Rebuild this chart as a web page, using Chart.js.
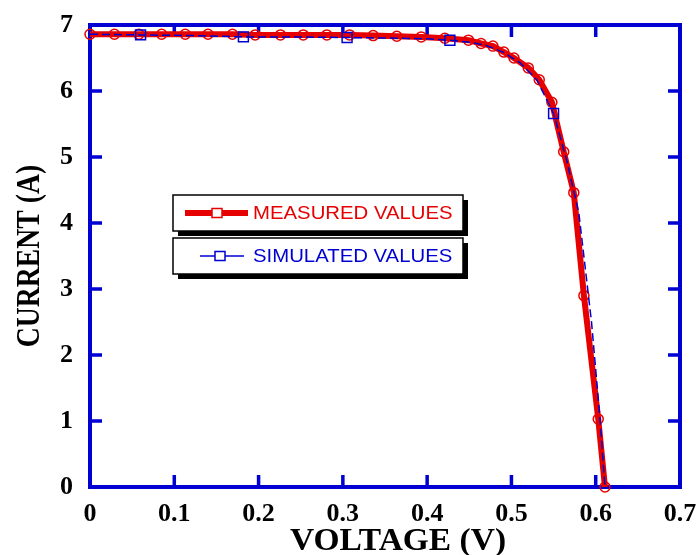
<!DOCTYPE html>
<html>
<head>
<meta charset="utf-8">
<script src="https://cdn.jsdelivr.net/npm/chart.js@4.4.0/dist/chart.umd.min.js"></script>
<style>
  html, body { margin: 0; padding: 0; background: #fff; }
  #wrap { width: 700px; height: 555px; }
</style>
</head>
<body>
<div id="wrap"><canvas id="ivChart" width="700" height="555"></canvas></div>
<script>
// measured I-V points (V, A)
const measuredVoltage = [0, 0.029, 0.058, 0.085, 0.113, 0.140, 0.169, 0.196, 0.226, 0.253, 0.281, 0.308, 0.336, 0.364, 0.393, 0.421, 0.449, 0.464, 0.478, 0.491, 0.503, 0.520, 0.533, 0.548, 0.562, 0.574, 0.586, 0.603, 0.611];
const measuredCurrent = [6.86, 6.86, 6.86, 6.86, 6.86, 6.86, 6.86, 6.85, 6.85, 6.85, 6.85, 6.85, 6.84, 6.83, 6.82, 6.80, 6.77, 6.72, 6.68, 6.59, 6.50, 6.35, 6.17, 5.83, 5.08, 4.46, 2.90, 1.03, 0.00];

// simulated curve, markers only on some of the points
const simulatedVoltage = [0, 0.06, 0.12, 0.182, 0.24, 0.305, 0.365, 0.40, 0.427, 0.45, 0.47, 0.49, 0.51, 0.53, 0.55, 0.565, 0.58, 0.595, 0.605, 0.611];
const simulatedCurrent = [6.86, 6.85, 6.84, 6.82, 6.82, 6.81, 6.80, 6.79, 6.77, 6.74, 6.69, 6.59, 6.43, 6.17, 5.66, 4.98, 4.15, 2.50, 1.05, 0.00];
const simulatedMarked = [0.06, 0.182, 0.305, 0.427, 0.55];

const xTicks = [0, 0.1, 0.2, 0.3, 0.4, 0.5, 0.6, 0.7];
const yTicks = [0, 1, 2, 3, 4, 5, 6, 7];
const legendLabels = ['MEASURED VALUES', 'SIMULATED VALUES'];
const xTitle = 'VOLTAGE (V)';
const yTitle = 'CURRENT (A)';

const RED = '#e60000';
const BLUE = '#0000d2';
const SERIF = '"Liberation Serif", "Times New Roman", serif';
const toPoints = (xs, ys) => xs.map((x, i) => ({ x: x, y: ys[i] }));

// frame, inward ticks, axis titles and the boxed legend
const framePlugin = {
  id: 'frame',
  beforeDatasetsDraw(chart) {
    const ctx = chart.ctx;
    const a = chart.chartArea;
    const xs = chart.scales.x, ys = chart.scales.y;
    ctx.save();
    ctx.strokeStyle = BLUE;
    ctx.lineWidth = 3.5;
    xTicks.slice(1, -1).forEach(v => {
      const px = xs.getPixelForValue(v);
      ctx.beginPath();
      ctx.moveTo(px, a.bottom); ctx.lineTo(px, a.bottom - 12);
      ctx.moveTo(px, a.top); ctx.lineTo(px, a.top + 12);
      ctx.stroke();
    });
    yTicks.slice(1, -1).forEach(v => {
      const py = ys.getPixelForValue(v);
      ctx.beginPath();
      ctx.moveTo(a.left, py); ctx.lineTo(a.left + 12, py);
      ctx.moveTo(a.right, py); ctx.lineTo(a.right - 12, py);
      ctx.stroke();
    });
    ctx.lineWidth = 4;
    ctx.strokeRect(a.left, a.top, a.right - a.left, a.bottom - a.top);

    ctx.fillStyle = '#000';
    ctx.textAlign = 'center';

    // x title, slightly wide and right of centre as in the original
    ctx.save();
    ctx.font = 'bold 31px ' + SERIF;
    ctx.textBaseline = 'alphabetic';
    ctx.translate(398, 550);
    ctx.scale(1.08, 1);
    ctx.fillText(xTitle, 0, 0);
    ctx.restore();

    // y title, a bit condensed
    ctx.font = 'bold 33px ' + SERIF;
    ctx.textBaseline = 'middle';
    ctx.translate(29, (a.top + a.bottom) / 2);
    ctx.rotate(-Math.PI / 2);
    ctx.scale(0.84, 1);
    ctx.fillText(yTitle, 0, 1);
    ctx.restore();
  },
  afterDraw(chart) {
    const ctx = chart.ctx;
    const boxes = [
      { top: 195, color: RED, lw: 6, x1: 185, x2: 248, mx: 217, text: legendLabels[0] },
      { top: 238, color: BLUE, lw: 1.5, x1: 200, x2: 244, mx: 220, text: legendLabels[1] }
    ];
    ctx.save();
    boxes.forEach(b => {
      const left = 173, w = 290, h = 36;
      ctx.fillStyle = '#000';
      ctx.fillRect(left + 5, b.top + 5, w, h);
      ctx.fillStyle = '#fff';
      ctx.fillRect(left, b.top, w, h);
      ctx.strokeStyle = '#000';
      ctx.lineWidth = 1.5;
      ctx.strokeRect(left, b.top, w, h);
      const cy = b.top + h / 2;
      ctx.strokeStyle = b.color;
      ctx.lineWidth = b.lw;
      ctx.beginPath();
      ctx.moveTo(b.x1, cy); ctx.lineTo(b.x2, cy);
      ctx.stroke();
      ctx.lineWidth = 1.5;
      ctx.fillStyle = '#fff';
      ctx.fillRect(b.mx - 5, cy - 4.5, 10, 9);
      ctx.strokeRect(b.mx - 5, cy - 4.5, 10, 9);
      ctx.fillStyle = b.color;
      ctx.font = '18px "Liberation Sans", Arial, sans-serif';
      ctx.textBaseline = 'middle';
      ctx.translate(253, cy + 1);
      ctx.scale(1.13, 1);
      ctx.fillText(b.text, 0, 0);
      ctx.setTransform(1, 0, 0, 1, 0, 0);
    });
    ctx.restore();
  }
};

const tickFont = { family: SERIF, size: 26, weight: 'bold' };

new Chart(document.getElementById('ivChart'), {
  type: 'line',
  data: {
    datasets: [
      {
        label: legendLabels[0],
        data: toPoints(measuredVoltage, measuredCurrent),
        borderColor: RED,
        borderWidth: 6,
        pointStyle: 'circle',
        pointRadius: 5,
        pointBorderWidth: 1.5,
        pointBorderColor: RED,
        pointBackgroundColor: 'rgba(0,0,0,0)',
        tension: 0,
        clip: false,
        order: 2
      },
      {
        label: legendLabels[1],
        data: toPoints(simulatedVoltage, simulatedCurrent),
        borderColor: BLUE,
        borderWidth: 1.5,
        borderDash: [8, 4],
        pointStyle: 'rect',
        pointRadius: simulatedVoltage.map(v => simulatedMarked.includes(v) ? 7 : 0),
        pointBorderWidth: 1.5,
        pointBorderColor: BLUE,
        pointBackgroundColor: 'rgba(0,0,0,0)',
        tension: 0,
        clip: false,
        order: 1
      }
    ]
  },
  options: {
    responsive: false,
    animation: false,
    layout: { padding: { top: 25, right: 20, left: 0, bottom: 0 } },
    plugins: { legend: { display: false }, tooltip: { enabled: false } },
    scales: {
      x: {
        type: 'linear',
        min: 0,
        max: 0.7,
        afterBuildTicks: s => { s.ticks = xTicks.map(v => ({ value: v })); },
        afterFit: s => { s.height = 68; s.paddingLeft = 0; s.paddingRight = 0; },
        grid: { display: false, drawTicks: false },
        border: { display: false },
        ticks: {
          color: '#000',
          font: tickFont,
          padding: 12,
          maxRotation: 0,
          callback: v => String(+v.toFixed(1))
        }
      },
      y: {
        type: 'linear',
        min: 0,
        max: 7,
        afterBuildTicks: s => { s.ticks = yTicks.map(v => ({ value: v })); },
        afterFit: s => { s.width = 90; s.paddingTop = 0; s.paddingBottom = 0; },
        grid: { display: false, drawTicks: false },
        border: { display: false },
        ticks: { color: '#000', font: tickFont, padding: 17 }
      }
    }
  },
  plugins: [framePlugin]
});
</script>
</body>
</html>
